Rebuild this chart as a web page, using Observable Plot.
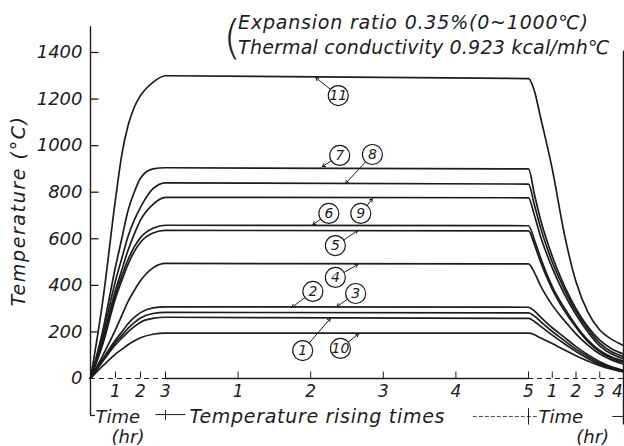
<!DOCTYPE html>
<html><head><meta charset="utf-8">
<script src="https://cdn.jsdelivr.net/npm/d3@7"></script>
<script src="https://cdn.jsdelivr.net/npm/@observablehq/plot@0.6"></script>
<style>
body{margin:0;background:#fff}
#chart{width:624px;height:446px;overflow:hidden}
</style>
</head><body><div id="chart"></div>
<script>
// ---- data ----
const curveLabels = ["11","7","8","9","6","5","4","2","3","1","10"];
// heating period, hours
const heatHours = [0, 0.5, 1, 1.25, 1.5, 1.75, 2, 2.5, 3];
const heatingTemps = [
  [0, 340, 770, 960, 1085, 1165, 1215, 1272, 1300],
  [0, 210, 480, 600, 720, 800, 860, 900, 905],
  [0, 190, 420, 515, 610, 680, 735, 815, 840],
  [0, 170, 380, 465, 550, 620, 680, 748, 778],
  [0, 160, 360, 440, 510, 565, 605, 645, 658],
  [0, 150, 345, 420, 490, 545, 585, 625, 636],
  [0, 100, 210, 270, 330, 378, 420, 475, 494],
  [0, 85, 165, 200, 235, 262, 283, 303, 308],
  [0, 80, 155, 185, 215, 240, 260, 279, 284],
  [0, 75, 145, 173, 200, 223, 242, 258, 263],
  [0, 55, 105, 125, 145, 161, 175, 190, 195]
];
// holding period, temperature rising times (0..5)
const riseTimesEnd = 5;
// cooling period, hours
const coolHours = [0, 0.25, 0.5, 1, 1.5, 2, 2.5, 3, 3.5, 4];
const coolingTemps = [
  [1288, 1235, 1125, 900, 625, 415, 285, 208, 168, 142],
  [900, 790, 685, 525, 400, 300, 222, 165, 128, 105],
  [835, 745, 650, 500, 385, 288, 212, 152, 115, 95],
  [776, 700, 612, 475, 365, 275, 200, 140, 105, 85],
  [656, 595, 520, 395, 305, 228, 165, 120, 92, 75],
  [634, 575, 503, 383, 293, 220, 158, 115, 87, 70],
  [492, 455, 400, 315, 250, 192, 143, 105, 80, 62],
  [306, 290, 265, 218, 178, 137, 102, 72, 50, 35],
  [282, 268, 245, 202, 164, 126, 94, 66, 46, 32],
  [258, 245, 225, 186, 150, 116, 86, 60, 42, 30],
  [195, 188, 175, 150, 123, 98, 75, 55, 40, 28]
];
// axis ticks
const yTicks = [0, 200, 400, 600, 800, 1000, 1200, 1400];
const heatTicks = [1, 2, 3];
const riseTicks = [1, 2, 3, 4, 5];
const coolTicks = [1, 2, 3, 4];
// circled curve labels: label position and arrow target (x on the combined axis, temperature)
const labelNames = ["11","7","8","6","9","5","4","2","3","1","10"];
const labelX   = [5.38, 5.40, 5.85, 5.25, 5.69, 5.34, 5.34, 5.03, 5.62, 4.89, 5.41];
const labelT   = [1215, 958, 962, 709, 709, 571, 434, 374, 365, 120, 129];
const targetX  = [5.07, 5.16, 5.48, 5.03, 5.85, 5.65, 5.65, 4.74, 5.36, 5.27, 5.66];
const targetT  = [1292, 910, 837, 661, 772, 636, 490, 305, 309, 258, 192];
const noteLines = ["Expansion ratio 0.35%(0~1000℃)", "Thermal conductivity 0.923 kcal/mh℃"];

// ---- build rows: combined axis = heating h | 3 + rising times | 8 + cooling h ----
const HEAT_END = 3, RISE_END = HEAT_END + riseTimesEnd;
const rows = [];
curveLabels.forEach((id, i) => {
  heatHours.forEach((h, j) => rows.push({curve: id, x: h, T: heatingTemps[i][j]}));
  coolHours.forEach((c, j) => rows.push({curve: id, x: RISE_END + c, T: coolingTemps[i][j]}));
});
const labels = labelNames.map((n, i) => ({n, x: labelX[i], T: labelT[i], tx: targetX[i], tT: targetT[i]}));

const FONT = "DejaVu Sans";
const ink = "#1c1c1c";
const txt = (data, o) => Plot.text(data, {fill: ink, fontFamily: FONT, fontStyle: "italic", stroke: null, ...o});

const plot = Plot.plot({
  width: 624, height: 446,
  marginLeft: 90, marginRight: 1, marginTop: 29, marginBottom: 68,
  x: {type: "linear", domain: [0, HEAT_END, RISE_END, RISE_END + 4], range: [90, 165, 528, 623]},
  y: {domain: [0, 1500], range: [378, 28.7]},
  axis: null,
  style: {background: "white", color: ink},
  marks: [
    // axes frame
    Plot.ruleX([0], {y1: -159, y2: 1510, stroke: ink, strokeWidth: 1.4}),
    Plot.ruleX([RISE_END + 4], {y1: -200, y2: 1405, stroke: ink, strokeWidth: 1.4}),
    Plot.ruleY([0], {x1: 0, x2: HEAT_END, stroke: ink, strokeWidth: 1.2, strokeDasharray: "5,4"}),
    Plot.ruleY([0], {x1: HEAT_END, x2: RISE_END, stroke: ink, strokeWidth: 1.4}),
    Plot.ruleY([0], {x1: RISE_END, x2: RISE_END + 4, stroke: ink, strokeWidth: 1.2, strokeDasharray: "5,4"}),
    Plot.ruleY(yTicks.filter(d => d > 0), {x1: 0, x2: 0.34, stroke: ink, strokeWidth: 1.3}),
    Plot.ruleX(heatTicks, {y1: 0, y2: 28, stroke: ink, strokeWidth: 1}),
    Plot.ruleX(riseTicks, {x: d => HEAT_END + d, y1: 0, y2: 28, stroke: ink, strokeWidth: 1}),
    Plot.ruleX(coolTicks, {x: d => RISE_END + d, y1: 0, y2: 28, stroke: ink, strokeWidth: 1}),
    // tick labels
    txt(yTicks, {x: 0, y: d => d, text: d => String(d), textAnchor: "end", dx: -8, fontSize: 18}),
    txt(heatTicks, {x: d => d, y: 0, text: d => String(d), dy: 13, fontSize: 17}),
    txt(riseTicks, {x: d => HEAT_END + d, y: 0, text: d => String(d), dy: 13, fontSize: 17}),
    txt(coolTicks.filter(d => d < 4), {x: d => RISE_END + d, y: 0, text: d => String(d), dy: 13, fontSize: 17}),
    txt(coolTicks.filter(d => d === 4), {x: d => RISE_END + d, y: 0, text: d => String(d), dy: 13, dx: -6, fontSize: 17}),
    // bottom captions
    Plot.ruleY([-159], {x1: 0, x2: 0.2, stroke: ink, strokeWidth: 1.2}),
    txt(["Time"], {x: 0.2, y: -167, textAnchor: "start", fontSize: 18}),
    txt(["(hr)"], {x: 1.5, y: -253, fontSize: 18}),
    Plot.ruleY([-155], {x1: 2.62, x2: 3.28, stroke: ink, strokeWidth: 1}),
    Plot.ruleX([HEAT_END], {y1: -137, y2: -180, stroke: ink, strokeWidth: 1}),
    txt(["Temperature rising times"], {x: 3.33, y: -167, textAnchor: "start", fontSize: 19}),
    Plot.ruleY([-163], {x1: 7.24, x2: RISE_END + 0.4, stroke: ink, strokeWidth: 0.8, strokeDasharray: "4,2"}),
    Plot.ruleX([RISE_END], {y1: -130, y2: -200, stroke: ink, strokeWidth: 1}),
    txt(["Time"], {x: RISE_END + 0.42, y: -167, textAnchor: "start", fontSize: 18}),
    txt(["(hr)"], {x: RISE_END + 2.7, y: -253, fontSize: 18}),
    Plot.ruleY([-163], {x1: RISE_END + 3.55, x2: RISE_END + 4, stroke: ink, strokeWidth: 1}),
    // y title
    txt(["Temperature (°C)"], {frameAnchor: "left", textAnchor: "middle", y: 720, dx: -72, rotate: -90, fontSize: 19}),
    // note
    txt(["("], {x: 3.92, y: 1460, fontSize: 46, fontStyle: "normal", fontWeight: 200}),
    txt([noteLines[0]], {x: 4.0, y: 1525, textAnchor: "start", fontSize: 19}),
    txt([noteLines[1]], {x: 4.0, y: 1418, textAnchor: "start", fontSize: 19}),
    // curves
    Plot.line(rows, {x: "x", y: "T", z: "curve", curve: "monotone-x", stroke: ink, strokeWidth: 1.7}),
    // circled labels
    Plot.arrow(labels, {x1: "x", y1: "T", x2: "tx", y2: "tT", insetStart: 10, headLength: 5, stroke: ink, strokeWidth: 1}),
    Plot.dot(labels, {x: "x", y: "T", r: 10, stroke: ink, fill: "white", strokeWidth: 1.2}),
    txt(labels, {x: "x", y: "T", text: "n", fontSize: 14})
  ]
});
// letter spacing to match the drafted lettering
const spacing = {"Temperature rising times": 0.7, "Temperature (°C)": 1.6};
spacing[noteLines[0]] = 0.8;
spacing[noteLines[1]] = 0.2;
d3.select(plot).selectAll("text").each(function() {
  const s = spacing[this.textContent];
  if (s) this.setAttribute("letter-spacing", s);
});
document.getElementById("chart").appendChild(plot);
</script>
</body></html>
